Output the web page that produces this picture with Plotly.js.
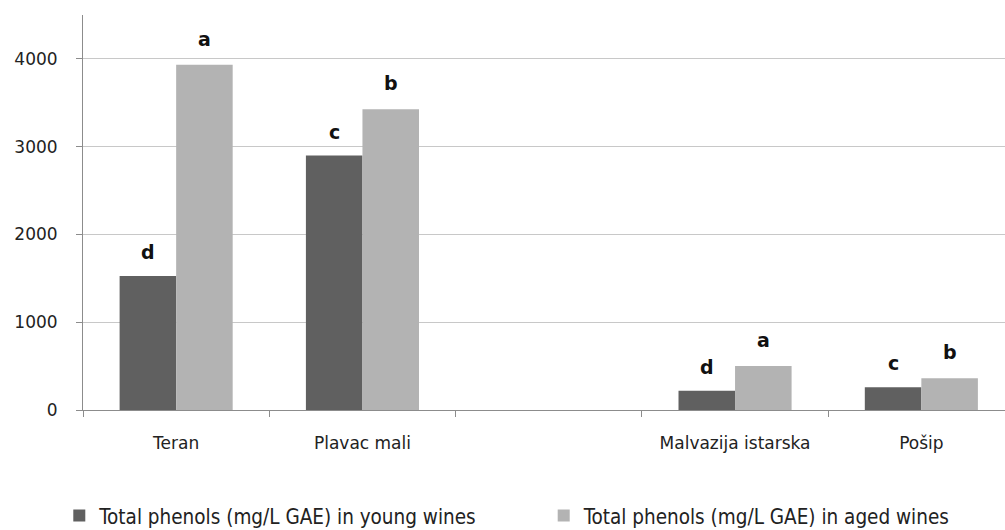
<!DOCTYPE html>
<html>
<head>
<meta charset="utf-8">
<script src="https://cdn.plot.ly/plotly-3.0.1.min.js"></script>
<style>html,body{margin:0;padding:0;background:#fff;}#chart{width:1005px;height:530px;}</style>
</head>
<body>
<div id="chart"></div>
<script>
const categories = ['Teran', 'Plavac mali', ' ', 'Malvazija istarska', 'Pošip'];
const youngValues = [1527, 2898, null, 220, 259];
const agedValues = [3932, 3427, null, 501, 361];
const youngLetters = ['d', 'c', '', 'd', 'c'];
const agedLetters = ['a', 'b', '', 'a', 'b'];
const youngName = 'Total phenols (mg/L GAE) in young wines';
const agedName = 'Total phenols (mg/L GAE) in aged wines';
const yTicks = [0, 1000, 2000, 3000, 4000];

const traces = [
  {type: 'bar', x: categories, y: youngValues, name: youngName, legend: 'legend',
   marker: {color: '#606060'}, hoverinfo: 'none'},
  {type: 'bar', x: categories, y: agedValues, name: agedName, legend: 'legend2',
   marker: {color: '#b3b3b3'}, hoverinfo: 'none'}
];

const letterFont = {family: 'DejaVu Sans', size: 19, color: '#111', weight: 'bold'};
const annotations = [];
const halfBar = 28.3;
categories.forEach((c, i) => {
  if (youngValues[i] != null) {
    annotations.push({x: c, y: youngValues[i], xref: 'x', yref: 'y', text: youngLetters[i],
      showarrow: false, xshift: -halfBar, yshift: 11, yanchor: 'bottom', font: letterFont});
  }
  if (agedValues[i] != null) {
    annotations.push({x: c, y: agedValues[i], xref: 'x', yref: 'y', text: agedLetters[i],
      showarrow: false, xshift: halfBar, yshift: 13, yanchor: 'bottom', font: letterFont});
  }
});

const legendFont = {family: 'DejaVu Sans Condensed, DejaVu Sans', size: 20.5, color: '#222'};
const tickFont = {family: 'DejaVu Sans', size: 17, color: '#222'};

const layout = {
  width: 1005, height: 530,
  margin: {l: 83, r: 0, t: 15, b: 120},
  paper_bgcolor: '#fff', plot_bgcolor: '#fff',
  barmode: 'group', bargap: 0.393, bargroupgap: 0,
  font: {family: 'DejaVu Sans', size: 16, color: '#222'},
  xaxis: {
    type: 'category', categoryorder: 'array', categoryarray: categories,
    range: [-0.5, 4.449], showline: true, linecolor: '#8c8c8c', linewidth: 1,
    ticks: 'outside', tickson: 'boundaries', ticklen: 6, tickcolor: '#8c8c8c',
    showgrid: false, zeroline: false, fixedrange: true,
    ticklabelstandoff: 18, tickfont: tickFont
  },
  yaxis: {
    range: [0, 4500], tickvals: yTicks, ticktext: yTicks.map(String),
    showline: true, linecolor: '#8c8c8c', linewidth: 1,
    ticks: 'outside', ticklen: 6, tickcolor: '#8c8c8c',
    showgrid: true, gridcolor: '#c8c8c8', gridwidth: 1, zeroline: false,
    fixedrange: true, ticklabelstandoff: 15, tickfont: tickFont
  },
  showlegend: true,
  legend: {
    orientation: 'h', xref: 'container', yref: 'container',
    x: 0.059, xanchor: 'left', y: 0.027, yanchor: 'middle',
    itemwidth: 30, font: legendFont, bgcolor: 'rgba(0,0,0,0)'
  },
  legend2: {
    orientation: 'h', xref: 'container', yref: 'container',
    x: 0.541, xanchor: 'left', y: 0.027, yanchor: 'middle',
    itemwidth: 30, font: legendFont, bgcolor: 'rgba(0,0,0,0)'
  },
  annotations: annotations
};

Plotly.newPlot('chart', traces, layout, {displayModeBar: false, staticPlot: true});
</script>
</body>
</html>
